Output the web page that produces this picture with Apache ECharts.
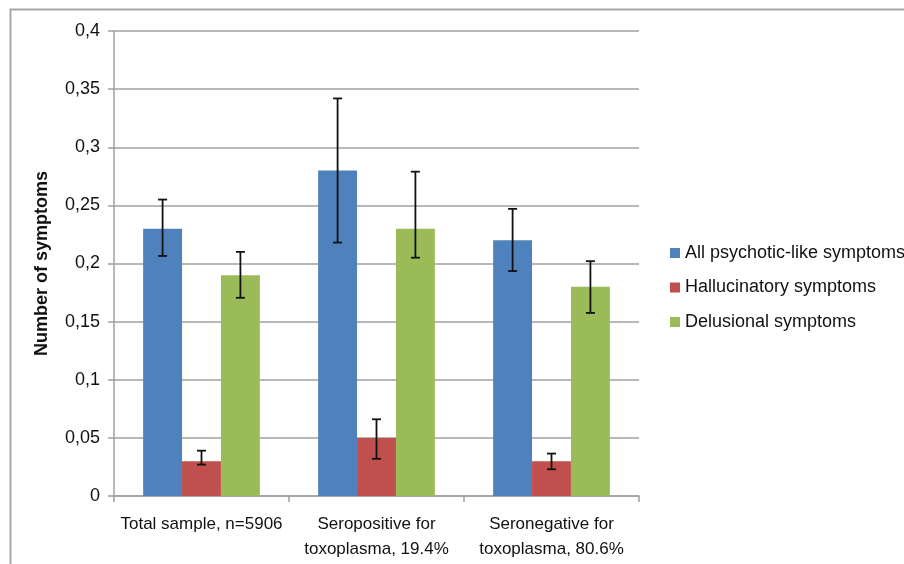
<!DOCTYPE html>
<html>
<head>
<meta charset="utf-8">
<script src="https://cdn.jsdelivr.net/npm/echarts@6/dist/echarts.min.js"></script>
<style>html,body{margin:0;padding:0;background:#fff}#c{width:904px;height:564px}</style>
</head>
<body>
<div id="c"></div>
<script>
var categories = ['Total sample, n=5906', 'Seropositive for\ntoxoplasma, 19.4%', 'Seronegative for\ntoxoplasma, 80.6%'];
var seriesNames = ['All psychotic-like symptoms', 'Hallucinatory symptoms', 'Delusional symptoms'];
var allValues = [0.23, 0.28, 0.22];
var allLow = [0.2065, 0.218, 0.1935];
var allHigh = [0.255, 0.342, 0.247];
var hallValues = [0.03, 0.05, 0.03];
var hallLow = [0.027, 0.032, 0.023];
var hallHigh = [0.039, 0.066, 0.0365];
var delValues = [0.19, 0.23, 0.18];
var delLow = [0.1705, 0.205, 0.1575];
var delHigh = [0.21, 0.279, 0.202];
var colors = ['#4F81BD', '#C0504D', '#9BBB59'];

var chart = echarts.init(document.getElementById('c'));
var FONT = '"Liberation Sans", Arial, sans-serif';
var gridLine = '#a0a0a0';

function errSeries(idx, low, high) {
  var data = low.map(function (l, i) { return [i, l, high[i]]; });
  return {
    type: 'custom',
    name: seriesNames[idx] + ' err',
    z: 10,
    silent: true,
    data: data,
    renderItem: function (params, api) {
      var ci = api.value(0);
      var lo = api.coord([ci, api.value(1)]);
      var hi = api.coord([ci, api.value(2)]);
      var bw = api.size([1, 0])[0];
      var barW = bw * (1 - 0.333) / 3;
      var cx = lo[0] + (idx - 1) * barW;
      var h = 4.5;
      var st = { stroke: '#111', lineWidth: 1.8 };
      return {
        type: 'group',
        children: [
          { type: 'line', shape: { x1: cx, y1: hi[1], x2: cx, y2: lo[1] }, style: st },
          { type: 'line', shape: { x1: cx - h, y1: hi[1], x2: cx + h, y2: hi[1] }, style: st },
          { type: 'line', shape: { x1: cx - h, y1: lo[1], x2: cx + h, y2: lo[1] }, style: st }
        ]
      };
    }
  };
}

var option = {
  animation: false,
  textStyle: { fontFamily: FONT },
  graphic: [{
    type: 'polyline',
    shape: { points: [[10.5, 564], [10.5, 9.5], [904, 9.5]] },
    style: { stroke: '#a8a8a8', lineWidth: 2, fill: null },
    silent: true
  }],
  grid: { left: 114, right: 265, top: 31, bottom: 68, containLabel: false },
  legend: {
    orient: 'vertical',
    left: 665,
    top: 239,
    itemWidth: 10,
    itemHeight: 10,
    itemGap: 16.5,
    icon: 'rect',
    data: seriesNames,
    textStyle: { fontSize: 18, color: '#111', fontFamily: FONT }
  },
  xAxis: {
    type: 'category',
    data: categories,
    axisLine: { lineStyle: { color: gridLine, width: 1.5 } },
    axisTick: { show: true, length: 6, lineStyle: { color: gridLine, width: 1.5 } },
    axisLabel: { fontSize: 17, color: '#111', margin: 16, lineHeight: 25, fontFamily: FONT, interval: 0 }
  },
  yAxis: {
    type: 'value',
    min: 0,
    max: 0.4,
    interval: 0.05,
    name: 'Number of symptoms',
    nameLocation: 'middle',
    nameGap: 63,
    nameRotate: 90,
    nameTextStyle: { fontSize: 18, fontWeight: 'bold', color: '#111', fontFamily: FONT },
    axisLine: { show: true, lineStyle: { color: gridLine, width: 1.5 } },
    axisTick: { show: true, inside: false, length: 6, lineStyle: { color: gridLine, width: 1.5 } },
    splitLine: { lineStyle: { color: gridLine, width: 1.5 } },
    axisLabel: {
      fontSize: 18, color: '#111', margin: 14, fontFamily: FONT,
      formatter: function (v) { return String(Math.round(v * 100) / 100).replace('.', ','); }
    }
  },
  series: [
    { type: 'bar', name: seriesNames[0], data: allValues, itemStyle: { color: colors[0] }, barGap: '0%', barCategoryGap: '33.3%' },
    { type: 'bar', name: seriesNames[1], data: hallValues, itemStyle: { color: colors[1] }, barGap: '0%', barCategoryGap: '33.3%' },
    { type: 'bar', name: seriesNames[2], data: delValues, itemStyle: { color: colors[2] }, barGap: '0%', barCategoryGap: '33.3%' },
    errSeries(0, allLow, allHigh),
    errSeries(1, hallLow, hallHigh),
    errSeries(2, delLow, delHigh)
  ]
};
chart.setOption(option);
</script>
</body>
</html>
